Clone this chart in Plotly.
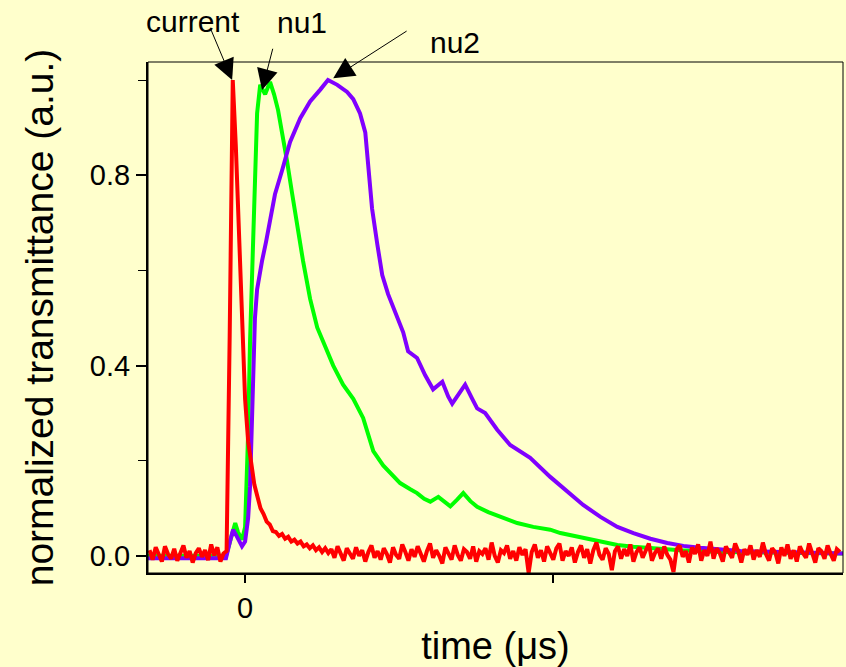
import numpy as np
import plotly.graph_objects as go

# time axis: one major tick step = 1 (label only on 0)
# current (red) trace, sampled every 0.01
red_pre = [0.012, -0.008, 0.018, 0.002, -0.012, 0.020, 0.004, -0.006, 0.015, -0.010,
           0.008, 0.022, -0.004, 0.010, -0.014, 0.006, 0.016, -0.002, 0.012, -0.009,
           0.024, 0.001, 0.018, -0.012, 0.005]
red_peak = [0.010, 0.46, 1.0, 0.86, 0.67, 0.46, 0.33, 0.24, 0.19, 0.15,
            0.125, 0.10, 0.088, 0.072, 0.066, 0.052, 0.050, 0.042, 0.046, 0.036,
            0.040, 0.030, 0.034, 0.026, 0.030, 0.020, 0.024, 0.016, 0.022, 0.012,
            0.018, 0.008, 0.016, 0.006]
red_post = [0.014, -0.004, 0.020, 0.002, -0.010, 0.016, 0.006, -0.006, 0.018, 0.000,
            0.012, -0.012, 0.008, 0.022, -0.004, 0.010, -0.008, 0.016, 0.004, -0.014,
            0.018, 0.002, -0.006, 0.024, 0.008, -0.010, 0.014, -0.002, 0.020, 0.004,
            -0.012, 0.010, 0.026, -0.004, 0.012, 0.000, -0.016, 0.018, 0.006, -0.008,
            0.022, 0.002, -0.010, 0.014, 0.008, -0.006, 0.020, -0.012, 0.010, 0.004,
            0.016, -0.008, 0.028, 0.000, -0.014, 0.012, 0.006, 0.022, -0.006, 0.010,
            -0.010, 0.018, 0.002, 0.014, -0.036, 0.008, 0.024, -0.004, 0.012, -0.012,
            0.020, 0.004, -0.008, 0.016, 0.026, -0.010, 0.010, 0.000, 0.018, -0.014,
            0.008, 0.022, -0.004, 0.014, -0.016, 0.012, 0.028, 0.002, -0.008, 0.016,
            0.004, -0.030, 0.010, 0.020, -0.006, 0.014, 0.000, 0.024, -0.012, 0.008,
            0.018, -0.004, 0.012, 0.026, -0.010, 0.006, 0.016, -0.006, 0.020, 0.002,
            -0.008, -0.034, 0.014, 0.022, -0.002, 0.010, -0.014, 0.018, 0.004, 0.024,
            -0.010, 0.012, 0.000, 0.030, -0.006, 0.016, 0.006, -0.012, 0.020, 0.008,
            -0.004, 0.026, 0.010, -0.014, 0.014, 0.002, 0.022, -0.008, 0.012, -0.002,
            0.028, 0.004, -0.010, 0.016, 0.008, -0.016, 0.018, 0.000, 0.024, -0.006,
            0.012, -0.012, 0.020, 0.006, -0.004, 0.026, 0.002, -0.014, 0.016, 0.010,
            -0.006, 0.022, 0.004, -0.010, 0.014, 0.008]
red_y = red_pre + red_peak + red_post
red_t = np.round(np.arange(len(red_y)) * 0.01 - 0.31, 2)

# nu1 (green)
nu1_t = [-0.315, -0.062, -0.049, -0.032, -0.023, -0.010, 0.0, 0.010, 0.016, 0.023,
         0.032, 0.039, 0.049, 0.065, 0.081, 0.094, 0.107, 0.123, 0.136, 0.153,
         0.169, 0.188, 0.211, 0.234, 0.260, 0.286, 0.318, 0.351, 0.383, 0.399,
         0.416, 0.448, 0.477, 0.503, 0.536, 0.558, 0.581, 0.601, 0.627, 0.649,
         0.666, 0.688, 0.708, 0.731, 0.753, 0.789, 0.828, 0.883, 0.935, 0.990,
         1.023, 1.097, 1.153, 1.208, 1.260, 1.315, 1.412, 1.542, 1.94]
nu1_y = [0.0, 0.0, 0.03, 0.069, 0.05, 0.034, 0.06, 0.26, 0.45, 0.60,
         0.83, 0.93, 0.99, 0.97, 0.996, 0.97, 0.937, 0.88, 0.83, 0.76,
         0.69, 0.62, 0.54, 0.48, 0.44, 0.40, 0.36, 0.33, 0.29, 0.255,
         0.22, 0.19, 0.17, 0.153, 0.14, 0.132, 0.12, 0.114, 0.124, 0.112,
         0.104, 0.118, 0.132, 0.115, 0.103, 0.092, 0.082, 0.069, 0.061, 0.055,
         0.048, 0.038, 0.030, 0.023, 0.019, 0.016, 0.012, 0.008, 0.005]

# nu2 (purple)
nu2_t = [-0.315, -0.062, -0.049, -0.039, -0.026, -0.010, 0.0, 0.010, 0.016, 0.026,
         0.032, 0.039, 0.049, 0.055, 0.068, 0.081, 0.097, 0.120, 0.146, 0.179,
         0.211, 0.244, 0.269, 0.299, 0.331, 0.351, 0.373, 0.390, 0.396, 0.412,
         0.429, 0.445, 0.464, 0.494, 0.513, 0.529, 0.558, 0.584, 0.610, 0.640,
         0.659, 0.672, 0.692, 0.714, 0.737, 0.753, 0.779, 0.818, 0.860, 0.925,
         0.990, 1.045, 1.097, 1.153, 1.208, 1.260, 1.315, 1.370, 1.422, 1.477,
         1.607, 1.94]
nu2_y = [-0.005, -0.005, 0.03, 0.055, 0.04, 0.02, 0.03, 0.08, 0.145, 0.33,
         0.50, 0.56, 0.60, 0.62, 0.66, 0.71, 0.76, 0.81, 0.87, 0.92,
         0.955, 0.98, 1.0, 0.99, 0.975, 0.96, 0.93, 0.89, 0.84, 0.73,
         0.655, 0.59, 0.55, 0.50, 0.47, 0.43, 0.416, 0.38, 0.35, 0.366,
         0.335, 0.32, 0.34, 0.36, 0.33, 0.31, 0.30, 0.265, 0.233, 0.206,
         0.166, 0.135, 0.107, 0.082, 0.061, 0.048, 0.036, 0.027, 0.021, 0.017,
         0.010, 0.005]

bg = "#FFFFCC"
font = "Arial, Liberation Sans, sans-serif"

fig = go.Figure()
fig.add_trace(go.Scatter(x=nu1_t, y=nu1_y, mode="lines", line=dict(color="#00FF00", width=4)))
fig.add_trace(go.Scatter(x=nu2_t, y=nu2_y, mode="lines", line=dict(color="#8000FF", width=4)))
fig.add_trace(go.Scatter(x=red_t, y=red_y, mode="lines", line=dict(color="#FF0000", width=4)))

# labels (paper coords) and arrows (data coords)
labels = ["current", "nu1", "nu2"]
label_pos = [(0.065, 1.080), (0.222, 1.078), (0.442, 1.039)]
arrow_tail = [(-0.114, 1.111), (0.091, 1.069), (0.529, 1.105)]
arrow_tip = [(-0.042, 1.0), (0.055, 0.979), (0.286, 1.004)]
for name, (lx, ly), (tx, ty), (hx, hy) in zip(labels, label_pos, arrow_tail, arrow_tip):
    fig.add_annotation(x=lx, y=ly, xref="paper", yref="paper", text=name, showarrow=False,
                       xanchor="center", yanchor="middle",
                       font=dict(size=30, color="black", family=font))
    fig.add_annotation(x=hx, y=hy, ax=tx, ay=ty, axref="x", ayref="y", text="",
                       showarrow=True, arrowhead=2, arrowsize=4.2, arrowwidth=1,
                       arrowcolor="black", standoff=0)

# thin frame on top/right
fig.add_shape(type="rect", xref="paper", yref="paper", x0=0, y0=0, x1=1, y1=1,
              line=dict(color="black", width=1))

fig.update_layout(
    width=846, height=667,
    paper_bgcolor=bg, plot_bgcolor=bg,
    margin=dict(l=148, r=3, t=62, b=94),
    showlegend=False,
    font=dict(family=font, color="black"),
    xaxis=dict(range=[-0.315, 1.94], showgrid=False, zeroline=False, automargin=False,
               showline=True, linecolor="black", linewidth=2,
               tickmode="array", tickvals=[0, 1], ticktext=["0", ""],
               ticks="outside", ticklen=8, tickwidth=2, tickcolor="black",
               tickfont=dict(size=29),
               title=dict(text="time (μs)", font=dict(size=38), standoff=10)),
    yaxis=dict(range=[-0.036, 1.038], showgrid=False, zeroline=False, automargin=False,
               showline=True, linecolor="black", linewidth=2,
               tickmode="array", tickvals=[0.0, 0.4, 0.8], tickformat=".1f",
               ticks="outside", ticklen=10, tickwidth=2, tickcolor="black",
               tickfont=dict(size=29),
               minor=dict(tickmode="array", tickvals=[0.2, 0.6, 1.0], ticks="outside",
                          ticklen=8, tickwidth=1, tickcolor="black"),
               title=dict(text="normalized transmittance (a.u.)", font=dict(size=39), standoff=24)),
)

# page body has a default 8px margin; drop it so the figure fills the window
fig.write_html("out.html", config={"displayModeBar": False},
               post_script="document.body.style.margin='0';document.body.style.overflow='hidden';")
